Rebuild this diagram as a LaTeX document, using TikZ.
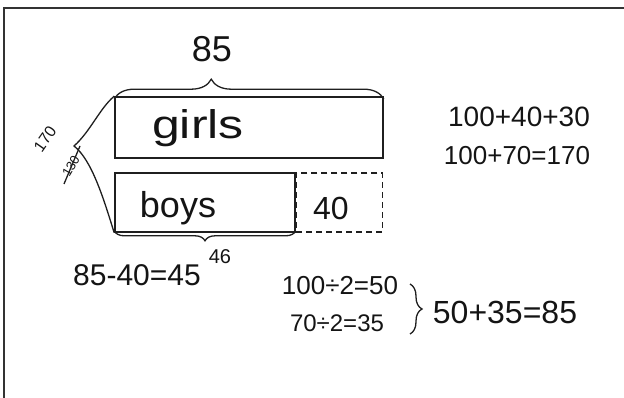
\documentclass[tikz,border=0pt]{standalone}
\usepackage{fontspec}
\setmainfont{Liberation Sans}
\usetikzlibrary{decorations.pathreplacing,calc}
\begin{document}
\begin{tikzpicture}[x=1pt,y=-1pt,
  ink/.style={draw=black!88, line width=1.6pt},
  bar/.style={ink, rectangle, inner sep=0pt},
  dbar/.style={draw=black!88, line width=1.3pt, dash pattern=on 6pt off 4pt, rectangle, inner sep=0pt},
  hw/.style={inner sep=0pt, text=black!92},
  curly/.style={draw=black!88, line width=1.3pt, decorate, decoration={brace, amplitude=#1}},
]
\useasboundingbox (0,0) rectangle (624,398);
\draw[line width=1.5pt, black!80] (4,398) -- (4,8) -- (624,8);

% bars
\node[bar, minimum width=268pt, minimum height=61pt] (girls) at (249,127.5) {};
\node[bar, minimum width=180pt, minimum height=59pt] (boys) at (205,202.5) {};
\node[dbar, minimum width=86pt, minimum height=59pt, anchor=west] (extra) at (boys.east) {};

% labels in bars
\node[hw, font=\fontsize{40}{40}\selectfont] (tgirls) at (198,128) {\scalebox{1.25}[1]{girls}};
\node[hw, font=\fontsize{36}{36}\selectfont] (tboys) at (178,208) {boys};
\node[hw, font=\fontsize{32}{32}\selectfont] (tforty) at (331,208) {40};

% top brace and 85
\draw[curly=20, decoration={aspect=0.36}] ([yshift=-3pt]girls.north west) -- ([yshift=-3pt]girls.north east);
\node[hw, font=\fontsize{36}{36}\selectfont] (t85) at (212,49) {85};

% bottom brace and 46
\draw[curly=10] ([yshift=2pt]boys.south east) -- ([yshift=2pt]boys.south west);
\node[hw, font=\fontsize{20}{20}\selectfont] (t46) at (220,257) {46};

% left brace
\coordinate (tip) at (74,146);
\draw[ink, line width=1.3pt] (girls.north west) .. controls (100,108) and (90,132) .. (tip)
  .. controls (92,160) and (104,200) .. (boys.south west);
\node[hw, font=\fontsize{16}{16}\selectfont, rotate=55] (t170) at (45,139) {170};
\node[hw, font=\fontsize{13}{13}\selectfont, rotate=60] (t130) at (71,166) {130};
\draw[black!88, line width=1.3pt] (80,146) -- (64,184);

% working
\node[hw, font=\fontsize{30}{30}\selectfont] (eq1) at (137,275) {85-40=45};
\node[hw, font=\fontsize{28}{28}\selectfont] (eq2) at (519,117) {100+40+30};
\node[hw, font=\fontsize{26}{26}\selectfont] (eq3) at (517,156) {100+70=170};
\node[hw, font=\fontsize{26}{26}\selectfont] (eq4) at (340,286) {100÷2=50};
\node[hw, font=\fontsize{24}{24}\selectfont] (eq5) at (337,323) {70÷2=35};
\draw[curly=12] (410,284) -- (410,334);
\node[hw, font=\fontsize{32}{32}\selectfont] (eq6) at (505,312) {50+35=85};
\end{tikzpicture}
\end{document}
